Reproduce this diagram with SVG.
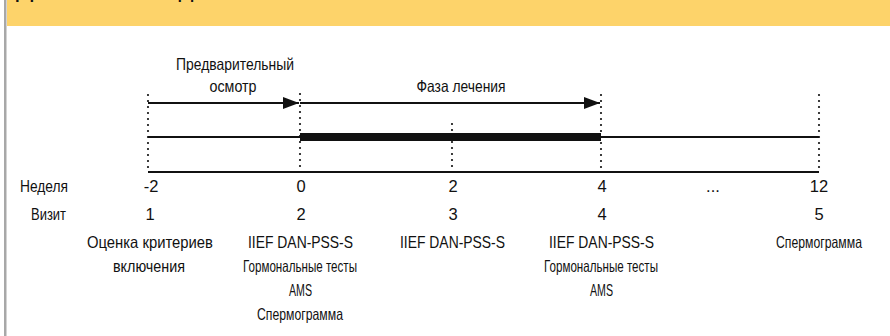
<svg xmlns="http://www.w3.org/2000/svg" width="890" height="336" viewBox="0 0 890 336">
<style>
text{font-family:"Liberation Sans",Arial,sans-serif;font-size:16.5px;fill:#111}
.c{text-anchor:middle}
.r{text-anchor:end}
.dot{stroke:#111;stroke-width:2.2;stroke-linecap:round;stroke-dasharray:0 6;fill:none}
.ln{stroke:#111;stroke-width:2;fill:none}
</style>
<defs>
<marker id="ah" markerWidth="16" markerHeight="12" viewBox="0 0 16 12" refX="16" refY="6" orient="auto" markerUnits="userSpaceOnUse">
<path d="M0,0 L16,6 L0,12 z" fill="#111"/>
</marker>
</defs>
<rect x="0" y="0" width="890" height="336" fill="#fff"/>
<rect x="7" y="0" width="883" height="26" fill="#fdd36a"/>
<rect x="4" y="0" width="2.5" height="336" fill="#a8a8a8"/>
<text x="16" y="-3" style="font-size:24px" textLength="262" lengthAdjust="spacingAndGlyphs">Дизайн исследования</text>
<g id="connectors">
<line class="dot" x1="148" y1="95" x2="148" y2="172"/>
<line class="dot" x1="300" y1="94" x2="300" y2="172"/>
<line class="dot" x1="452" y1="124" x2="452" y2="172"/>
<line class="dot" x1="601" y1="95" x2="601" y2="172"/>
<line class="dot" x1="819" y1="95" x2="819" y2="172"/>
<line class="ln" x1="148" y1="103" x2="299" y2="103" marker-end="url(#ah)"/>
<line class="ln" x1="300" y1="103" x2="600" y2="103" marker-end="url(#ah)"/>
<line class="ln" x1="148" y1="137" x2="819" y2="137"/>
<rect x="300" y="133" width="301" height="8" fill="#111"/>
<line class="ln" x1="148" y1="172" x2="819" y2="172"/>
</g>
<g id="phase-screening">
<text class="c" x="235" y="70" textLength="118" lengthAdjust="spacingAndGlyphs">Предварительный</text>
<text class="c" x="233" y="92" textLength="47" lengthAdjust="spacingAndGlyphs">осмотр</text>
</g>
<g id="phase-treatment">
<text class="c" x="461" y="92" textLength="89" lengthAdjust="spacingAndGlyphs">Фаза лечения</text>
</g>
<g id="row-labels">
<text x="20" y="192" textLength="48" lengthAdjust="spacingAndGlyphs">Неделя</text>
<text x="31" y="220" textLength="35" lengthAdjust="spacingAndGlyphs">Визит</text>
</g>
<g id="visit-1">
<text class="c" x="151" y="192">-2</text>
<text class="c" x="150" y="220">1</text>
<text x="87" y="248" textLength="126" lengthAdjust="spacingAndGlyphs">Оценка критериев</text>
<text x="113" y="272" textLength="72" lengthAdjust="spacingAndGlyphs">включения</text>
</g>
<g id="visit-2">
<text class="c" x="301" y="192">0</text>
<text class="c" x="301" y="220">2</text>
<text x="248" y="248" textLength="105" lengthAdjust="spacingAndGlyphs">IIEF DAN-PSS-S</text>
<text x="243" y="272" textLength="114" lengthAdjust="spacingAndGlyphs">Гормональные тесты</text>
<text x="289" y="296" textLength="23" lengthAdjust="spacingAndGlyphs">AMS</text>
<text x="257" y="320" textLength="86" lengthAdjust="spacingAndGlyphs">Спермограмма</text>
</g>
<g id="visit-3">
<text class="c" x="453" y="192">2</text>
<text class="c" x="453" y="220">3</text>
<text x="400" y="248" textLength="105" lengthAdjust="spacingAndGlyphs">IIEF DAN-PSS-S</text>
</g>
<g id="visit-4">
<text class="c" x="602" y="192">4</text>
<text class="c" x="602" y="220">4</text>
<text x="549" y="248" textLength="105" lengthAdjust="spacingAndGlyphs">IIEF DAN-PSS-S</text>
<text x="544" y="272" textLength="114" lengthAdjust="spacingAndGlyphs">Гормональные тесты</text>
<text x="590" y="296" textLength="23" lengthAdjust="spacingAndGlyphs">AMS</text>
</g>
<g id="ellipsis">
<text class="c" x="713" y="192">...</text>
</g>
<g id="visit-5">
<text class="c" x="819" y="192">12</text>
<text class="c" x="819" y="220">5</text>
<text class="c" x="819" y="248" textLength="86" lengthAdjust="spacingAndGlyphs">Спермограмма</text>
</g>
</svg>
